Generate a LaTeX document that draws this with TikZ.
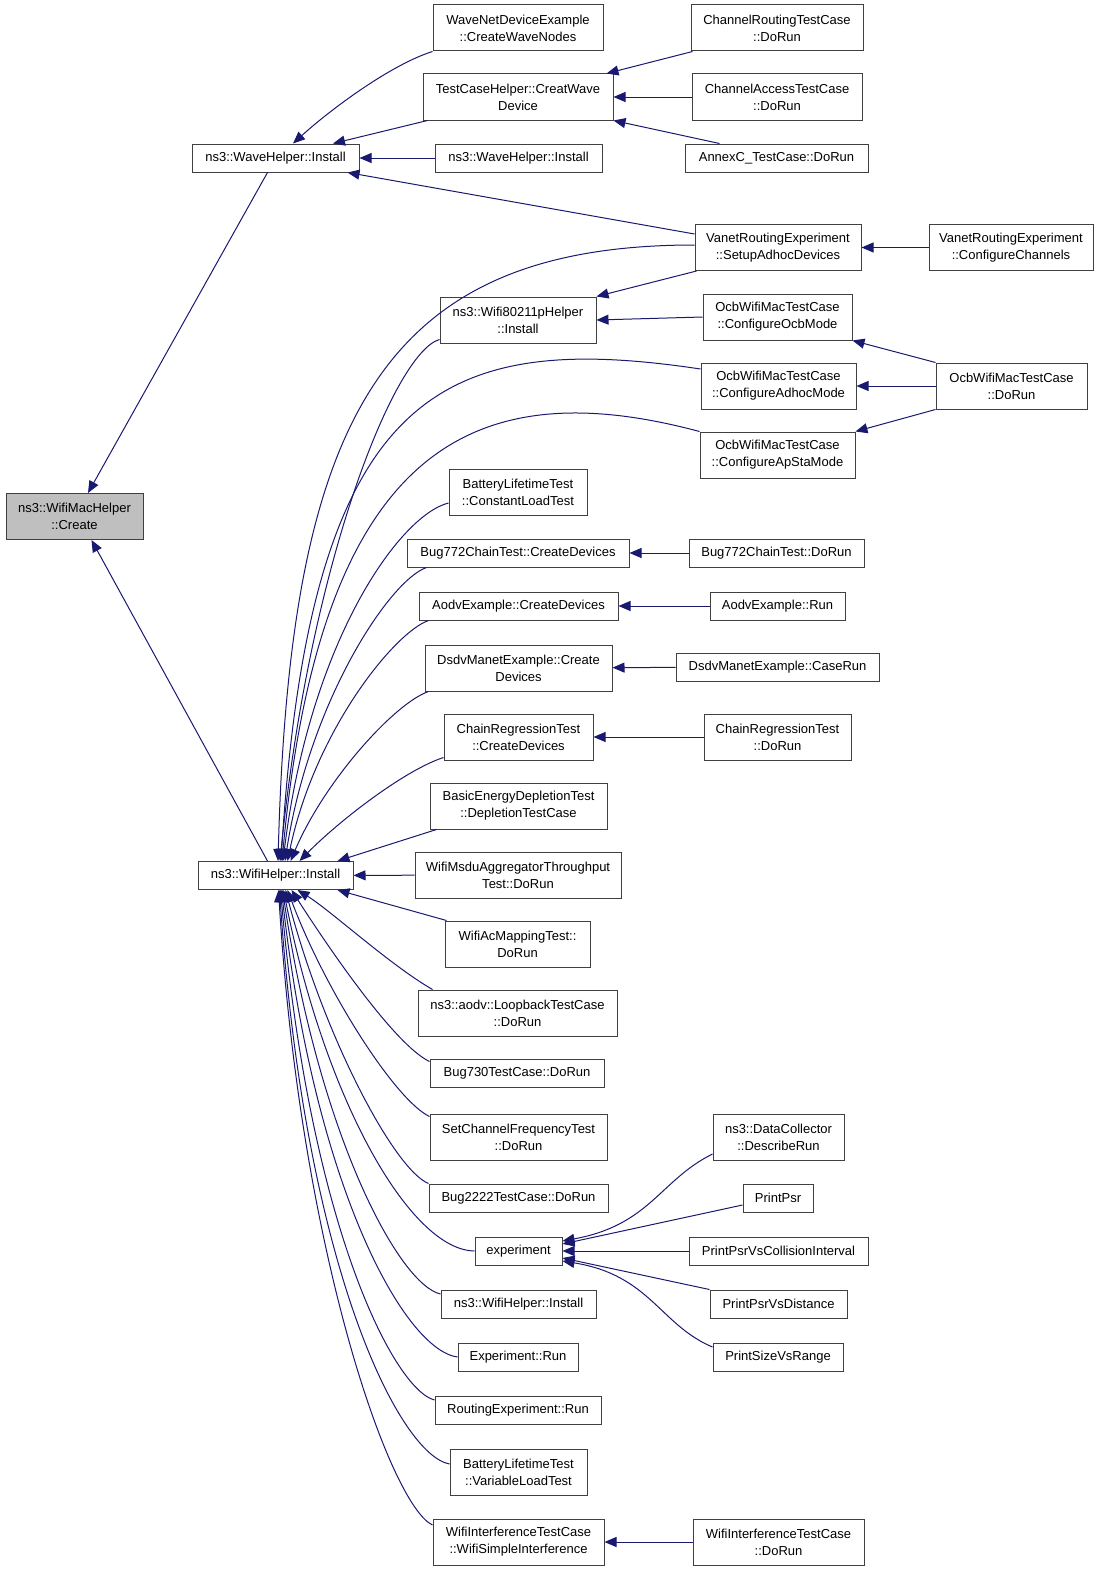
\documentclass[tikz,border=0pt]{standalone}
\usepackage{fontspec}
\setmainfont{Liberation Sans}
\usetikzlibrary{arrows.meta}
\definecolor{midblue}{RGB}{25,25,112}
\definecolor{boxgray}{RGB}{191,191,191}
\begin{document}
\begin{tikzpicture}[x=1pt, y=-1pt,
  box/.style={draw=black!75, fill=white, line width=1pt, inner sep=0pt, align=center, font=\fontsize{13}{17}\selectfont},
  one/.style={box, minimum height=28pt},
  two/.style={box, minimum height=46pt},
  edge/.style={draw=midblue, line width=1pt, -{Triangle[length=12pt,width=10pt]}}]

\useasboundingbox (0,0) rectangle (1101,1571);

\node [two, fill=boxgray, minimum width=137] (create) at (74.5,516.5) {ns3::WifiMacHelper\\::Create};
\node [one, minimum width=167] (waveinst) at (275.5,158) {ns3::WaveHelper::Install};
\node [one, minimum width=155] (wifiinst) at (275.5,875.5) {ns3::WifiHelper::Install};

\node [two, minimum width=170] (wavenet) at (518,28) {WaveNetDeviceExample\\::CreateWaveNodes};
\node [two, minimum width=190] (tchelper) at (518,97) {TestCaseHelper::CreatWave\\Device};
\node [one, minimum width=167] (waveinst2) at (518.5,158) {ns3::WaveHelper::Install};
\node [two, minimum width=156] (wifi80211p) at (518,320) {ns3::Wifi80211pHelper\\::Install};
\node [two, minimum width=138] (battconst) at (518,492) {BatteryLifetimeTest\\::ConstantLoadTest};
\node [one, minimum width=222] (bug772cd) at (518,553) {Bug772ChainTest::CreateDevices};
\node [one, minimum width=199] (aodvcd) at (518.5,606) {AodvExample::CreateDevices};
\node [two, minimum width=187] (dsdvcd) at (518.5,668) {DsdvManetExample::Create\\Devices};
\node [two, minimum width=149] (chaincd) at (518.5,737) {ChainRegressionTest\\::CreateDevices};
\node [two, minimum width=177] (basicdep) at (518.5,806) {BasicEnergyDepletionTest\\::DepletionTestCase};
\node [two, minimum width=206] (msdu) at (518,875) {WifiMsduAggregatorThroughput\\Test::DoRun};
\node [two, minimum width=145] (acmap) at (517.5,944) {WifiAcMappingTest::\\DoRun};
\node [two, minimum width=199] (loopback) at (517.5,1013) {ns3::aodv::LoopbackTestCase\\::DoRun};
\node [one, minimum width=174] (bug730) at (517,1073) {Bug730TestCase::DoRun};
\node [two, minimum width=177] (setchan) at (518.5,1137) {SetChannelFrequencyTest\\::DoRun};
\node [one, minimum width=179] (bug2222) at (518.5,1198) {Bug2222TestCase::DoRun};
\node [one, minimum width=87] (experiment) at (518.5,1251) {experiment};
\node [one, minimum width=155] (wifiinst2) at (518.5,1304) {ns3::WifiHelper::Install};
\node [one, minimum width=120] (exprun) at (518,1357) {Experiment::Run};
\node [one, minimum width=166] (routexp) at (518,1410) {RoutingExperiment::Run};
\node [two, minimum width=137] (battvar) at (518.5,1472) {BatteryLifetimeTest\\::VariableLoadTest};
\node [two, minimum width=171] (wifiint) at (518.5,1542) {WifiInterferenceTestCase\\::WifiSimpleInterference};

\node [two, minimum width=172] (chanrout) at (777,28) {ChannelRoutingTestCase\\::DoRun};
\node [two, minimum width=170] (chanacc) at (777,97) {ChannelAccessTestCase\\::DoRun};
\node [one, minimum width=183] (annexc) at (776.5,158) {AnnexC\_TestCase::DoRun};
\node [two, minimum width=166] (vanetsetup) at (778,247.5) {VanetRoutingExperiment\\::SetupAdhocDevices};
\node [two, minimum width=149] (ocbocb) at (777.5,317) {OcbWifiMacTestCase\\::ConfigureOcbMode};
\node [two, minimum width=155] (ocbadhoc) at (778.5,386) {OcbWifiMacTestCase\\::ConfigureAdhocMode};
\node [two, minimum width=155] (ocbapsta) at (777.5,455) {OcbWifiMacTestCase\\::ConfigureApStaMode};
\node [one, minimum width=175] (bug772run) at (776.5,553) {Bug772ChainTest::DoRun};
\node [one, minimum width=135] (aodvrun) at (777.5,606) {AodvExample::Run};
\node [one, minimum width=203] (dsdvrun) at (777.5,667) {DsdvManetExample::CaseRun};
\node [two, minimum width=147] (chainrun) at (777.5,737) {ChainRegressionTest\\::DoRun};
\node [two, minimum width=131] (dcdesc) at (778.5,1137) {ns3::DataCollector\\::DescribeRun};
\node [one, minimum width=70] (printpsr) at (778,1198) {PrintPsr};
\node [one, minimum width=179] (ppsrci) at (778.5,1251) {PrintPsrVsCollisionInterval};
\node [one, minimum width=137] (ppsrdist) at (778.5,1304) {PrintPsrVsDistance};
\node [one, minimum width=130] (psizerange) at (778,1357) {PrintSizeVsRange};
\node [two, minimum width=171] (wifiintrun) at (778.5,1542) {WifiInterferenceTestCase\\::DoRun};

\node [two, minimum width=164] (vanetconf) at (1011,247.5) {VanetRoutingExperiment\\::ConfigureChannels};
\node [two, minimum width=151] (ocbrun) at (1011.5,386) {OcbWifiMacTestCase\\::DoRun};

\draw [edge] ([xshift=-8]waveinst.south) -- ([xshift=13.5]create.north);
\draw [edge] ([xshift=-8]wifiinst.north) -- ([xshift=17]create.south);

\draw [edge] (wavenet.south west) .. controls (390,65) and (330,110) .. ([xshift=17.5]waveinst.north);
\draw [edge] ([xshift=5]tchelper.south west) -- ([xshift=57.5]waveinst.north);
\draw [edge] (waveinst2) -- (waveinst);
\draw [edge] ([yshift=13.5]vanetsetup.west) -- ([xshift=-12]waveinst.south east);

\draw [edge] ([xshift=2]chanrout.south west) -- ([xshift=-7]tchelper.north east);
\draw [edge] (chanacc) -- (tchelper);
\draw [edge] ([xshift=35]annexc.north west) -- (tchelper.south east);
\draw [edge] (vanetconf) -- (vanetsetup);
\draw [edge] ([xshift=2]vanetsetup.south west) -- (wifi80211p.north east);
\draw [edge] (ocbocb.west) -- (wifi80211p.east);
\draw [edge] (ocbrun.north west) -- (ocbocb.south east);
\draw [edge] (ocbrun) -- (ocbadhoc);
\draw [edge] (ocbrun.south west) -- (ocbapsta.north east);
\draw [edge] (bug772run) -- (bug772cd);
\draw [edge] (aodvrun) -- (aodvcd);
\draw [edge] (dsdvrun) -- (dsdvcd);
\draw [edge] (chainrun) -- (chaincd);
\draw [edge] (wifiintrun) -- (wifiint);

\draw [edge] ([yshift=2.5]vanetsetup.west) .. controls (380,245) and (290,420) .. ([xshift=2.5]wifiinst.north);
\draw [edge] ([yshift=4]wifi80211p.south west) .. controls (395,352) and (310,560) .. ([xshift=4.5]wifiinst.north);
\draw [edge] ([yshift=17]ocbadhoc.west) .. controls (440,330) and (310,390) .. ([xshift=5.5]wifiinst.north);
\draw [edge] (ocbapsta.north west) .. controls (470,370) and (320,450) .. ([xshift=6.5]wifiinst.north);
\draw [edge] ([yshift=-11]battconst.west) .. controls (400,515) and (310,640) .. ([xshift=7.5]wifiinst.north);
\draw [edge] ([xshift=20]bug772cd.south west) .. controls (390,580) and (310,700) .. ([xshift=9.5]wifiinst.north);
\draw [edge] ([xshift=10]aodvcd.south west) .. controls (395,632) and (315,730) .. ([xshift=12]wifiinst.north);
\draw [edge] ([xshift=4]dsdvcd.south west) .. controls (395,703) and (325,780) .. ([xshift=15]wifiinst.north);
\draw [edge] ([yshift=3]chaincd.south west) .. controls (405,770) and (340,820) .. ([xshift=24]wifiinst.north);
\draw [edge] ([xshift=7]basicdep.south west) -- ([xshift=62]wifiinst.north);
\draw [edge] (msdu) -- (wifiinst);

\draw [edge] ([xshift=2]acmap.north west) -- ([xshift=62]wifiinst.south);
\draw [edge] ([xshift=15]loopback.north west) .. controls (390,965) and (330,910) .. ([xshift=22]wifiinst.south);
\draw [edge] ([yshift=-3]bug730.north west) .. controls (395,1045) and (330,950) .. ([xshift=16]wifiinst.south);
\draw [edge] ([yshift=-3]setchan.north west) .. controls (395,1100) and (325,990) .. ([xshift=12]wifiinst.south);
\draw [edge] (bug2222.north west) .. controls (395,1170) and (325,1040) .. ([xshift=10]wifiinst.south);
\draw [edge] (experiment.west) .. controls (410,1250) and (325,1100) .. ([xshift=8]wifiinst.south);
\draw [edge] ([yshift=10]wifiinst2.west) .. controls (400,1285) and (320,1140) .. ([xshift=7]wifiinst.south);
\draw [edge] (exprun.west) .. controls (405,1350) and (315,1190) .. ([xshift=6]wifiinst.south);
\draw [edge] ([yshift=10]routexp.west) .. controls (395,1390) and (310,1230) .. ([xshift=5]wifiinst.south);
\draw [edge] ([yshift=8]battvar.west) .. controls (400,1455) and (305,1270) .. ([xshift=4]wifiinst.south);
\draw [edge] ([yshift=17]wifiint.west) .. controls (390,1505) and (300,1250) .. ([xshift=3]wifiinst.south);

\draw [edge] ([yshift=-17]dcdesc.west) .. controls (660,1180) and (650,1225) .. ([yshift=10]experiment.east);
\draw [edge] ([yshift=-7]printpsr.west) -- ([yshift=7]experiment.east);
\draw [edge] (ppsrci) -- (experiment);
\draw [edge] (ppsrdist.north west) -- ([yshift=-7]experiment.east);
\draw [edge] ([yshift=10]psizerange.west) .. controls (660,1325) and (650,1275) .. ([yshift=-10]experiment.east);

\end{tikzpicture}
\end{document}
